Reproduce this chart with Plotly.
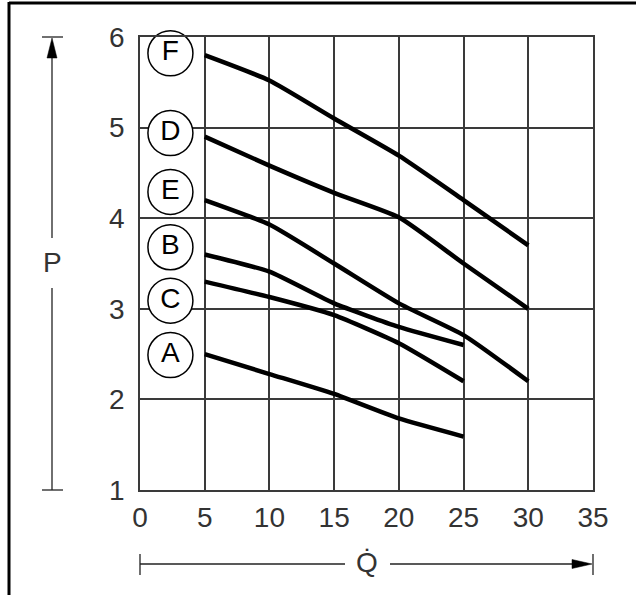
import plotly.graph_objects as go

# ---- data ----
flow_long = [5, 10, 15, 20, 25, 30]
flow_short = [5, 10, 15, 20, 25]
curve_F = [5.8, 5.52, 5.1, 4.69, 4.2, 3.7]
curve_D = [4.9, 4.58, 4.28, 4.01, 3.5, 3.0]
curve_E = [4.2, 3.93, 3.5, 3.06, 2.71, 2.2]
curve_B = [3.6, 3.41, 3.06, 2.8, 2.6]
curve_C = [3.3, 3.13, 2.93, 2.62, 2.2]
curve_A = [2.5, 2.28, 2.06, 1.79, 1.59]
label_names = ["F", "D", "E", "B", "C", "A"]
label_p = [5.82, 4.94, 4.29, 3.68, 3.09, 2.49]
label_q = [2.35, 2.35, 2.35, 2.35, 2.35, 2.35]
x_ticks = [0, 5, 10, 15, 20, 25, 30, 35]
y_ticks = [1, 2, 3, 4, 5, 6]

FONT = "Liberation Sans, Arial, Helvetica, sans-serif"
GRID = "#3a3a3a"

fig = go.Figure()
series = [
    (flow_long, curve_F), (flow_long, curve_D), (flow_long, curve_E),
    (flow_short, curve_B), (flow_short, curve_C), (flow_short, curve_A),
]
for xs, ys in series:
    fig.add_trace(go.Scatter(
        x=xs, y=ys, mode="lines",
        line=dict(color="black", width=4.5, shape="spline", smoothing=0.5),
        showlegend=False, hoverinfo="skip"))

fig.add_trace(go.Scatter(
    x=label_q, y=label_p, mode="markers+text", text=label_names,
    textposition="middle center",
    textfont=dict(family=FONT, size=28, color="black"),
    marker=dict(symbol="circle", size=45, color="white",
                line=dict(color="black", width=1.5)),
    showlegend=False, hoverinfo="skip", cliponaxis=False))

axis_common = dict(
    showgrid=True, gridcolor=GRID, gridwidth=1.5,
    showline=True, linecolor=GRID, linewidth=1.5, mirror=True,
    zeroline=False, ticks="",
    tickfont=dict(family=FONT, size=28, color="#333333"),
)

fig.update_layout(
    width=636, height=595, autosize=False,
    margin=dict(l=140, r=43, t=37, b=105),
    paper_bgcolor="white", plot_bgcolor="white",
    xaxis=dict(range=[0, 35], tickvals=x_ticks, ticklabelstandoff=2, **axis_common),
    yaxis=dict(range=[1, 6], tickvals=y_ticks, ticklabelstandoff=8, **axis_common),
)

W = 453.0
def px_x(p):
    return (p - 140) / W
def px_y(p):
    return (490 - p) / W

shapes = []
ln = dict(color="#222222", width=1.3)
# outer frame (top and left)
shapes.append(dict(type="line", xref="paper", yref="paper", x0=px_x(9), x1=px_x(640),
                   y0=px_y(3), y1=px_y(3), line=dict(color="black", width=3)))
shapes.append(dict(type="line", xref="paper", yref="paper", x0=px_x(9), x1=px_x(9),
                   y0=px_y(2), y1=px_y(600), line=dict(color="black", width=3)))
# P axis arrow
ax = px_x(52)
for yy in (37, 490):
    shapes.append(dict(type="line", xref="paper", yref="paper", x0=px_x(42), x1=px_x(63),
                       y0=px_y(yy), y1=px_y(yy), line=ln))
shapes.append(dict(type="line", xref="paper", yref="paper", x0=ax, x1=ax,
                   y0=px_y(490), y1=px_y(288), line=ln))
shapes.append(dict(type="line", xref="paper", yref="paper", x0=ax, x1=ax,
                   y0=px_y(238), y1=px_y(55), line=ln))
shapes.append(dict(type="path", xref="paper", yref="paper",
                   path=f"M {px_x(52)},{px_y(38)} L {px_x(47)},{px_y(58)} L {px_x(57)},{px_y(58)} Z",
                   fillcolor="black", line=dict(color="black", width=0.5)))
# Q axis arrow
ay = px_y(564)
for xx in (140, 593):
    shapes.append(dict(type="line", xref="paper", yref="paper", x0=px_x(xx), x1=px_x(xx),
                       y0=px_y(554), y1=px_y(575), line=ln))
shapes.append(dict(type="line", xref="paper", yref="paper", x0=px_x(140), x1=px_x(345),
                   y0=ay, y1=ay, line=ln))
shapes.append(dict(type="line", xref="paper", yref="paper", x0=px_x(390), x1=px_x(575),
                   y0=ay, y1=ay, line=ln))
shapes.append(dict(type="path", xref="paper", yref="paper",
                   path=f"M {px_x(592)},{ay} L {px_x(572)},{px_y(559.5)} L {px_x(572)},{px_y(568.5)} Z",
                   fillcolor="black", line=dict(color="black", width=0.5)))
fig.update_layout(shapes=shapes)

fig.add_annotation(x=px_x(52), y=px_y(262), xref="paper", yref="paper", text="P",
                   showarrow=False, font=dict(family=FONT, size=28, color="#333333"),
                   xanchor="center", yanchor="middle")
fig.add_annotation(x=px_x(367), y=px_y(562), xref="paper", yref="paper", text="Q\u0307",
                   showarrow=False, font=dict(family=FONT, size=28, color="#333333"),
                   xanchor="center", yanchor="middle")

fig.write_html("out.html", config={"displayModeBar": False},
               post_script="document.body.style.margin='0px';document.body.style.overflow='hidden';")
